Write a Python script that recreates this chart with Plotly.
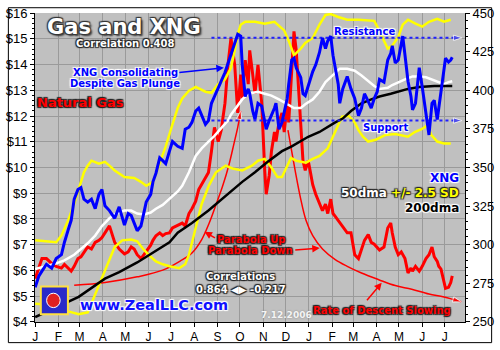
import plotly.graph_objects as go

# ---------------- data ----------------
dates = ["2005-01-01","2005-01-06","2005-01-10","2005-01-16","2005-01-23","2005-01-29","2005-02-05","2005-02-09",
"2005-02-14","2005-02-18","2005-02-22","2005-02-27","2005-03-03","2005-03-07","2005-03-12","2005-03-17","2005-03-22",
"2005-03-27","2005-03-31","2005-04-04","2005-04-10","2005-04-17","2005-04-23","2005-04-30","2005-05-05","2005-05-09",
"2005-05-13","2005-05-17","2005-05-22","2005-05-26","2005-05-29","2005-06-04","2005-06-07","2005-06-11","2005-06-16",
"2005-06-20","2005-06-24","2005-06-29","2005-07-03","2005-07-10","2005-07-16","2005-07-20","2005-07-25","2005-07-29",
"2005-08-03","2005-08-07","2005-08-11","2005-08-16","2005-08-20","2005-08-24","2005-08-28","2005-09-02","2005-09-06",
"2005-09-11","2005-09-15","2005-09-19","2005-09-24","2005-09-28","2005-10-02","2005-10-04","2005-10-08","2005-10-12",
"2005-10-14","2005-10-18","2005-10-21","2005-10-25","2005-10-30","2005-11-03","2005-11-05","2005-11-09","2005-11-12",
"2005-11-16","2005-11-18","2005-11-22","2005-11-26","2005-11-29","2005-12-03","2005-12-05","2005-12-09","2005-12-12",
"2005-12-15","2005-12-21","2005-12-24","2005-12-27","2005-12-31","2006-01-02","2006-01-06","2006-01-10","2006-01-15",
"2006-01-19","2006-01-23","2006-01-26","2006-01-30","2006-02-02","2006-02-05","2006-02-09","2006-02-11","2006-02-15",
"2006-02-21","2006-02-26","2006-03-03","2006-03-08","2006-03-12","2006-03-16","2006-03-21","2006-03-25","2006-03-29",
"2006-04-02","2006-04-05","2006-04-11","2006-04-16","2006-04-20","2006-04-22","2006-04-26","2006-04-30","2006-05-04",
"2006-05-06","2006-05-09","2006-05-13","2006-05-17","2006-05-19","2006-05-23","2006-05-28","2006-06-01","2006-06-06",
"2006-06-10","2006-06-14","2006-06-17","2006-06-21","2006-06-23","2006-06-26","2006-06-30","2006-07-02","2006-07-06",
"2006-07-09","2006-07-11"]

xng = [272.4,279.8,282.9,287.3,284.8,291.0,293.5,301.6,309.6,315.8,329.5,335.7,337.0,329.5,327.6,329.5,323.3,
332.6,335.7,325.2,322.1,317.1,324.5,312.7,320.2,318.9,314.0,309.0,312.1,320.2,327.6,332.6,340.7,346.3,356.2,
354.4,352.5,360.6,366.8,363.7,362.4,374.8,376.1,379.2,386.6,388.5,384.2,378.0,380.4,391.6,396.0,400.9,405.9,
411.5,417.7,422.7,430.1,436.3,435.1,416.5,396.0,400.9,397.8,386.6,381.1,391.6,389.8,380.4,374.8,380.4,383.5,
388.5,391.6,374.8,379.2,385.4,394.7,404.0,419.6,420.8,414.6,408.4,397.8,396.6,402.8,405.9,412.1,416.5,424.5,
433.9,427.0,432.0,435.1,422.7,413.4,404.0,391.6,400.9,409.0,400.9,394.7,383.5,388.5,397.8,392.9,388.5,394.7,
399.1,407.1,405.3,419.6,423.9,428.9,417.7,419.6,428.9,435.1,422.7,405.9,396.0,387.3,391.6,414.6,402.2,385.4,
371.1,391.6,393.5,381.1,388.5,399.7,416.5,420.8,418.3,419.6,421.4]

natgas = [5.68,6.16,6.46,6.46,6.27,6.16,6.09,6.23,6.09,5.97,6.16,6.46,6.53,6.72,6.91,6.83,7.09,
7.17,7.28,7.46,7.73,7.09,6.83,6.64,6.72,6.91,6.83,6.61,6.46,6.61,6.72,6.98,7.17,7.35,7.46,
7.35,7.43,7.46,7.65,7.76,7.84,7.73,8.21,8.40,8.69,9.14,9.33,9.59,9.81,10.63,11.56,11.01,11.45,
12.50,13.99,15.03,13.99,12.12,13.61,12.68,14.17,13.24,14.55,13.61,12.87,13.99,12.50,9.89,8.96,9.70,10.63,
11.38,11.01,11.75,12.12,11.38,12.50,11.75,13.99,15.29,14.55,11.38,10.26,9.89,10.26,9.96,9.33,8.96,8.58,
8.32,8.58,8.21,8.77,8.21,8.10,7.95,7.84,7.73,7.46,7.46,6.61,6.46,6.83,7.17,7.39,7.09,7.02,
6.91,6.79,6.91,7.65,7.84,7.46,6.91,6.61,6.72,6.61,6.46,5.90,6.09,5.97,6.16,5.97,6.16,6.46,
6.61,6.91,6.53,6.35,6.16,6.05,5.60,5.30,5.34,5.53,5.79]

dma50_dates = ["2005-01-01","2005-01-16","2005-01-29","2005-02-09","2005-02-22","2005-03-03","2005-03-12","2005-03-22",
"2005-03-31","2005-04-10","2005-04-17","2005-04-30","2005-05-09","2005-05-17","2005-05-26","2005-06-04","2005-06-11",
"2005-06-20","2005-06-29","2005-07-10","2005-07-16","2005-07-25","2005-08-03","2005-08-11","2005-08-20","2005-08-28",
"2005-09-06","2005-09-15","2005-09-19","2005-09-28","2005-10-04","2005-10-12","2005-10-18","2005-10-25","2005-11-03",
"2005-11-12","2005-11-22","2005-12-03","2005-12-12","2005-12-21","2005-12-27","2006-01-06","2006-01-15","2006-01-23",
"2006-02-02","2006-02-11","2006-02-21","2006-03-03","2006-03-12","2006-03-21","2006-03-29","2006-04-05","2006-04-16",
"2006-04-22","2006-04-30","2006-05-09","2006-05-19","2006-05-28","2006-06-06","2006-06-14","2006-06-23","2006-06-30",
"2006-07-06","2006-07-11"]
dma50 = [284.2,286.0,287.9,289.8,293.5,297.2,300.9,305.9,312.1,317.1,319.6,322.1,322.1,320.2,319.6,320.8,323.3,
325.8,329.5,334.5,338.2,346.9,357.5,362.4,366.8,370.5,375.5,380.4,384.2,390.4,394.1,397.8,398.4,399.1,397.8,
396.6,394.1,391.0,388.5,388.5,391.0,394.1,399.1,405.3,410.2,414.0,414.0,412.7,409.6,405.9,402.8,400.9,401.6,
403.4,405.3,407.1,409.0,409.0,408.4,407.1,405.3,404.0,405.3,405.9]

dma200_dates = ["2005-01-01","2005-01-29","2005-02-28","2005-04-04","2005-04-23","2005-05-17","2005-06-07","2005-06-29",
"2005-07-10","2005-07-29","2005-08-20","2005-09-11","2005-10-04","2005-10-21","2005-11-07","2005-11-26","2005-12-09",
"2005-12-31","2006-01-15","2006-02-05","2006-02-15","2006-02-26","2006-03-12","2006-03-25","2006-04-05","2006-04-20",
"2006-05-04","2006-05-13","2006-05-28","2006-06-17","2006-07-11"]
dma200 = [253.1,259.3,266.2,278.0,282.3,288.5,294.7,301.6,307.8,314.0,322.1,331.4,340.7,346.9,353.7,360.6,363.7,
369.9,373.0,379.2,381.7,386.6,391.6,394.1,396.0,397.8,399.7,400.9,402.2,402.8,402.8]

band_up_dates = ["2005-01-01","2005-01-16","2005-01-29","2005-02-05","2005-02-14","2005-02-22","2005-02-27","2005-03-07",
"2005-03-12","2005-03-17","2005-03-27","2005-04-04","2005-04-10","2005-04-17","2005-04-30","2005-05-13","2005-05-22",
"2005-05-29","2005-06-07","2005-06-16","2005-06-24","2005-07-03","2005-07-10","2005-07-16","2005-07-25","2005-08-03",
"2005-08-16","2005-08-24","2005-09-02","2005-09-11","2005-09-19","2005-09-24","2005-09-28","2005-10-02","2005-10-08",
"2005-10-21","2005-11-03","2005-11-16","2005-11-22","2005-11-29","2005-12-05","2005-12-12","2005-12-21","2005-12-27",
"2006-01-06","2006-01-15","2006-01-23","2006-01-30","2006-02-09","2006-02-21","2006-03-08","2006-03-29","2006-04-02",
"2006-04-11","2006-04-16","2006-04-22","2006-04-30","2006-05-06","2006-05-13","2006-05-23","2006-06-01","2006-06-10",
"2006-06-21","2006-06-30","2006-07-09"]
band_up = [302.8,302.2,301.6,305.9,315.8,326.4,334.5,346.9,351.2,354.4,352.5,353.7,351.2,348.1,343.8,343.2,340.7,
338.2,340.7,352.5,363.7,378.0,388.5,394.7,399.7,402.2,399.1,398.4,404.0,407.1,414.6,425.8,436.3,442.5,444.4,
444.4,443.2,444.4,441.9,438.8,432.0,422.7,427.0,430.7,433.9,442.5,448.8,449.4,447.5,445.7,445.7,445.0,441.3,
432.0,427.0,428.9,434.5,442.5,445.7,443.2,441.3,444.4,446.3,444.4,445.7]

band_lo_dates = ["2005-01-01","2005-01-16","2005-01-29","2005-02-14","2005-02-28","2005-03-12","2005-03-19","2005-03-31",
"2005-04-10","2005-04-17","2005-04-27","2005-05-09","2005-05-17","2005-05-26","2005-06-04","2005-06-11","2005-06-20",
"2005-06-29","2005-07-12","2005-07-20","2005-07-25","2005-07-29","2005-08-05","2005-08-11","2005-08-21","2005-08-30",
"2005-09-12","2005-09-21","2005-10-04","2005-10-17","2005-10-25","2005-11-03","2005-11-12","2005-11-20","2005-11-26",
"2005-12-03","2005-12-08","2005-12-15","2005-12-28","2006-01-06","2006-01-15","2006-01-26","2006-02-02","2006-02-08",
"2006-02-14","2006-02-23","2006-03-03","2006-03-08","2006-03-14","2006-03-21","2006-03-31","2006-04-13","2006-04-26",
"2006-05-13","2006-05-22","2006-05-31","2006-06-08","2006-06-13","2006-06-21","2006-06-30","2006-07-09"]
band_lo = [261.8,261.2,259.9,256.8,255.0,256.2,264.3,278.0,290.4,298.5,302.8,303.4,302.2,296.6,292.2,289.1,287.3,
286.0,284.8,287.3,293.5,301.6,315.8,326.4,338.8,346.9,351.2,349.4,348.1,351.2,354.4,355.6,350.0,343.8,343.8,
351.2,356.2,354.4,353.1,355.6,357.5,362.4,369.9,376.1,382.9,383.5,379.2,374.2,369.9,366.8,368.0,371.1,371.7,
369.9,373.0,374.8,377.3,371.1,366.8,365.5,365.5]

parab_up_dates = ["2005-02-22","2005-04-04","2005-05-17","2005-06-20","2005-07-14","2005-07-29","2005-08-11","2005-08-21",
"2005-08-30","2005-09-08","2005-09-16","2005-09-23","2005-09-28","2005-10-02"]
parab_up = [5.42,5.53,5.75,6.01,6.38,6.68,7.20,7.84,8.55,9.29,10.07,10.93,11.56,12.20]

parab_down_dates = ["2005-12-04","2005-12-09","2005-12-14","2005-12-21","2005-12-28","2006-01-06","2006-01-19","2006-02-05",
"2006-02-21","2006-03-12","2006-04-04","2006-04-26","2006-05-18","2006-06-10","2006-06-30","2006-07-23"]
parab_down = [11.45,10.63,9.81,8.77,7.95,7.35,6.83,6.42,6.16,5.90,5.64,5.41,5.27,5.08,4.97,4.78]

level_dates = ["2005-08-24", "2006-07-24"]
resistance = 434.0
support = 380.4

month_ticks = ["2005-01-01","2005-02-01","2005-03-01","2005-04-01","2005-05-01","2005-06-01","2005-07-01",
"2005-08-01","2005-09-01","2005-10-01","2005-11-01","2005-12-01","2006-01-01","2006-02-01","2006-03-01",
"2006-04-01","2006-05-01","2006-06-01","2006-07-01"]
month_labels = ["J","F","M","A","M","J","J","A","S","O","N","D","J","F","M","A","M","J","J"]
gas_ticks = [4, 5, 6, 7, 8, 9, 10, 11, 12, 13, 14, 15, 16]
gas_labels = ["$4","$5","$6","$7","$8","$9","$10","$11","$12","$13","$14","$15","$16"]
xng_ticks = [250, 275, 300, 325, 350, 375, 400, 425, 450]
xng_labels = ["250","275","300","325","350","375","400","425","450"]

# ---------------- figure ----------------
RED = "#FF0000"
BLUE = "#0000FF"
YEL = "#FFFF00"

fig = go.Figure()

def arrow_sizes(n, s):
    return [0] * (n - 1) + [s]

# left-axis series (drawn underneath)
fig.add_trace(go.Scatter(x=dates, y=natgas, mode="lines", line=dict(color=RED, width=3), yaxis="y"))
fig.add_trace(go.Scatter(x=parab_up_dates, y=parab_up, mode="lines+markers", line=dict(color=RED, width=1.5, shape="spline"),
                         marker=dict(symbol="arrow", angleref="previous", size=arrow_sizes(len(parab_up), 9), color=RED), yaxis="y"))
fig.add_trace(go.Scatter(x=parab_down_dates, y=parab_down, mode="lines+markers", line=dict(color=RED, width=1.5, shape="spline"),
                         marker=dict(symbol="arrow", angleref="previous", size=arrow_sizes(len(parab_down), 9), color=RED), yaxis="y"))

# right-axis series
fig.add_trace(go.Scatter(x=band_up_dates, y=band_up, mode="lines", line=dict(color=YEL, width=2.5), yaxis="y2"))
fig.add_trace(go.Scatter(x=band_lo_dates, y=band_lo, mode="lines", line=dict(color=YEL, width=2.5), yaxis="y2"))
fig.add_trace(go.Scatter(x=dma50_dates, y=dma50, mode="lines", line=dict(color="white", width=2.5), yaxis="y2"))
fig.add_trace(go.Scatter(x=dma200_dates, y=dma200, mode="lines", line=dict(color="black", width=2.5), yaxis="y2"))
for lvl in (resistance, support):
    fig.add_trace(go.Scatter(x=level_dates, y=[lvl, lvl], mode="lines+markers",
                             line=dict(color="#2020FF", width=2, dash="dot"),
                             marker=dict(symbol="arrow", angleref="previous", size=[0, 9], color="#2020FF"), yaxis="y2"))
fig.add_trace(go.Scatter(x=dates, y=xng, mode="lines", line=dict(color=BLUE, width=3), yaxis="y2"))

# ---------------- text ----------------
L, T, W, H = 28, 6, 444, 322

def px(x):
    return (x - L) / W

def py(y):
    return (T + H - y) / H

DARK = "1px 1px 1px #222, -1px -1px 1px #222, 1px -1px 1px #222, -1px 1px 1px #222"
LIGHT = "1px 1px 1px #fff, -1px -1px 1px #fff, 1px -1px 1px #fff, -1px 1px 1px #fff"
FONT = "DejaVu Sans"

def label(text, x, y, size, color, shadow, anchor="center"):
    fig.add_annotation(text=text, x=px(x), y=py(y), xref="paper", yref="paper", showarrow=False,
                       xanchor=anchor, yanchor="middle", borderpad=0,
                       font=dict(family=FONT, size=size, color=color, weight="bold", shadow=shadow))

def arrow(x0, y0, x1, y1, color):
    fig.add_annotation(text="", x=px(x1), y=py(y1), xref="paper", yref="paper", showarrow=True,
                       ax=x0 - x1, ay=y0 - y1, arrowhead=2, arrowsize=1, arrowwidth=1.5, arrowcolor=color)

label("Gas and XNG", 120, 21, 21, "white", "2px 2px 2px #333, -1px -1px 1px #333, 1px -1px 1px #333, -1px 1px 1px #333")
label("Correlation 0.408", 121, 38, 10, "white", DARK)
label("XNG Consolidating", 121, 68, 10, BLUE, LIGHT)
label("Despite Gas Plunge", 121, 79, 10, BLUE, LIGHT)
label("Natural Gas", 75, 99, 13, RED, DARK)
label("Resistance", 368, 25, 10, BLUE, LIGHT)
label("Support", 390, 125, 10, BLUE, LIGHT)
label("XNG", 467, 178, 12, BLUE, LIGHT, "right")
label("50dma <span style='color:#FFFF00'>+/- 2.5 SD</span>", 467, 194, 12, "white", DARK, "right")
label("200dma", 467, 209, 12, "black", LIGHT, "right")
label("Parabola Up", 251, 242, 10, RED, DARK)
label("Parabola Down", 251, 253, 10, RED, DARK)
label("Correlations", 240, 281, 10, "white", DARK)
label("0.864 \u25C0\u25B6 -0.217", 241, 294.5, 10, "white", DARK)
label("7.12.2006", 288, 321, 9, "#F4F4F4", "0 0 2px #888")
label("Rate of Descent Slowing", 386, 316, 10, RED, DARK)
label("www.ZealLLC.com", 151, 310, 14.5, "#1010FF", LIGHT)

arrow(177, 68, 223, 63, BLUE)
arrow(215, 241, 203, 234, RED)
arrow(296, 253, 322, 251, RED)
arrow(370, 306, 386, 287, RED)

# logo + outer frame
shapes = [
    dict(type="rect", xref="paper", yref="paper", x0=px(34), x1=px(62), y0=py(320), y1=py(291),
         fillcolor="#2A2AC8", line=dict(color="#FFE040", width=2)),
    dict(type="circle", xref="paper", yref="paper", x0=px(40), x1=px(54), y0=py(313), y1=py(298),
         fillcolor="#E02020", line=dict(color="white", width=1)),
    dict(type="rect", xref="paper", yref="paper", x0=px(0.5), x1=px(499.5), y0=py(349.5), y1=py(0.5),
         line=dict(color="black", width=1), fillcolor="rgba(0,0,0,0)"),
]

axis_font = dict(family="Liberation Sans", size=13, color="black")
fig.update_layout(
    width=500, height=350, margin=dict(l=L, r=500 - L - W, t=T, b=350 - T - H),
    paper_bgcolor="white", plot_bgcolor="#C0C0C0", showlegend=False, shapes=shapes,
    xaxis=dict(type="date", range=["2004-12-31 18:00", "2006-07-28"], tickvals=month_ticks, ticktext=month_labels,
               showgrid=True, gridcolor="#9A9A9A", gridwidth=1, ticks="outside", ticklen=4, tickcolor="black",
               showline=True, linecolor="black", linewidth=1, tickfont=dict(family="Liberation Sans", size=12, color="black"),
               zeroline=False, ticklabeloverflow="allow"),
    yaxis=dict(range=[3.995, 16.005], tickvals=gas_ticks, ticktext=gas_labels, showgrid=True, gridcolor="#9A9A9A", gridwidth=1,
               ticks="outside", ticklen=4, tickcolor="black", showline=True, linecolor="black", linewidth=1,
               tickfont=axis_font, zeroline=False, ticklabeloverflow="allow",
               minor=dict(dtick=0.2, ticks="outside", ticklen=2, tickcolor="black", showgrid=False)),
    yaxis2=dict(range=[249.92, 450.08], tickvals=xng_ticks, ticktext=xng_labels, overlaying="y", side="right", showgrid=False,
                ticks="outside", ticklen=4, tickcolor="black", showline=True, linecolor="black", linewidth=1,
                tickfont=axis_font, zeroline=False, ticklabeloverflow="allow",
                minor=dict(dtick=5, ticks="outside", ticklen=2, tickcolor="black", showgrid=False)),
)

fig.write_html("out.html")
